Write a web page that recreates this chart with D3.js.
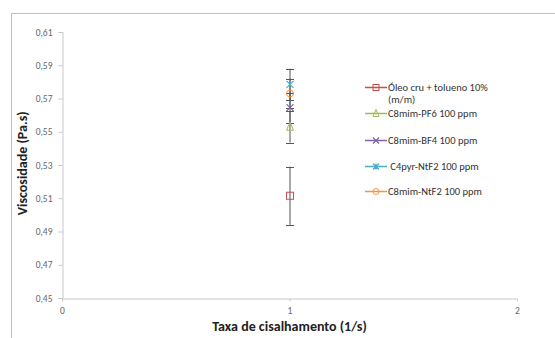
<!DOCTYPE html>
<html>
<head>
<meta charset="utf-8">
<script src="https://cdn.jsdelivr.net/npm/d3@7"></script>
<style>
  body { margin: 0; background: #fff; }
  svg { display: block; }
</style>
</head>
<body>
<svg id="chart" width="555" height="338"></svg>
<script>
// Viscosity at shear rate 1 1/s for crude oil + toluene with ionic liquids
const seriesNames = ["Óleo cru + tolueno 10% (m/m)", "C8mim-PF6 100 ppm", "C8mim-BF4 100 ppm", "C4pyr-NtF2 100 ppm", "C8mim-NtF2 100 ppm"];
const seriesColors = ["#C0504D", "#9BBB59", "#8064A2", "#4BACC6", "#F79646"];
const seriesShapes = ["square", "triangle", "x", "star", "circle"];
const shearRate = [1, 1, 1, 1, 1];
const viscosity = [0.5115, 0.5530, 0.5645, 0.5785, 0.5730];
const viscosityErr = [0.0175, 0.0095, 0.0090, 0.0095, 0.0090];
const yTicks = [0.45, 0.47, 0.49, 0.51, 0.53, 0.55, 0.57, 0.59, 0.61];
const xTicks = [0, 1, 2];

const svg = d3.select("#chart");
const W = 555, H = 338;
const fontFam = "Carlito, Calibri, 'Open Sans', 'Liberation Sans', sans-serif";

// outer chart frame
svg.append("path")
  .attr("d", `M11.5,${H} V13.5 H${W}`)
  .attr("fill", "none").attr("stroke", "#bdbdbd").attr("stroke-width", 1);

const x = d3.scaleLinear().domain([0, 2]).range([62, 517]);
const y = d3.scaleLinear().domain([0.45, 0.61]).range([298, 32]);

const fmt = d => d3.format(".2f")(d).replace(".", ",");

// y axis
const yAxis = svg.append("g").attr("transform", "translate(62.5,0)")
  .call(d3.axisLeft(y).tickValues(yTicks).tickFormat(fmt).tickSize(4).tickPadding(6));
// x axis
const xAxis = svg.append("g").attr("transform", "translate(0,298.5)")
  .call(d3.axisBottom(x).tickValues(xTicks).tickFormat(d3.format("d")).tickSize(3).tickPadding(6));

[yAxis, xAxis].forEach(g => {
  g.select(".domain").attr("stroke", "#c8c8c8");
  g.selectAll(".tick line").attr("stroke", "#c8c8c8");
  g.selectAll(".tick text").attr("fill", "#666").attr("font-size", 9.5).attr("font-family", fontFam);
});
xAxis.selectAll(".tick").filter(d => d === 0 || d === 2).select("line").remove();

// axis titles
svg.append("text")
  .attr("x", x(1)).attr("y", 331)
  .attr("text-anchor", "middle").attr("font-family", fontFam)
  .attr("font-weight", "bold").attr("font-size", 14).attr("fill", "#222")
  .text("Taxa de cisalhamento (1/s)");
svg.append("text")
  .attr("transform", `translate(27,${y(0.531)}) rotate(-90)`)
  .attr("text-anchor", "middle").attr("font-family", fontFam)
  .attr("font-weight", "bold").attr("font-size", 14).attr("fill", "#222")
  .text("Viscosidade (Pa.s)");

// marker drawer
function marker(g, shape, color, cx, cy, s) {
  if (shape === "square") {
    g.append("rect").attr("x", cx - s).attr("y", cy - s).attr("width", 2 * s).attr("height", 2 * s)
      .attr("fill", "#fff").attr("fill-opacity", 0).attr("stroke", color).attr("stroke-width", 1);
  } else if (shape === "triangle") {
    g.append("path").attr("d", `M${cx},${cy - s - 1} L${cx + s},${cy + s} L${cx - s},${cy + s} Z`)
      .attr("fill", "none").attr("stroke", color).attr("stroke-width", 1);
  } else if (shape === "x") {
    g.append("path").attr("d", `M${cx - s},${cy - s} L${cx + s},${cy + s} M${cx + s},${cy - s} L${cx - s},${cy + s}`)
      .attr("stroke", color).attr("stroke-width", 1.2);
  } else if (shape === "star") {
    g.append("path").attr("d", `M${cx - s},${cy - s} L${cx + s},${cy + s} M${cx + s},${cy - s} L${cx - s},${cy + s} M${cx},${cy - s} V${cy + s}`)
      .attr("stroke", color).attr("stroke-width", 1.2);
  } else {
    g.append("circle").attr("cx", cx).attr("cy", cy).attr("r", s)
      .attr("fill", "none").attr("stroke", color).attr("stroke-width", 1);
  }
}

// error bars
const eb = svg.append("g");
seriesNames.forEach((n, i) => {
  const cx = x(shearRate[i]) + 0.5;
  const y0 = y(viscosity[i] - viscosityErr[i]);
  const y1 = y(viscosity[i] + viscosityErr[i]);
  eb.append("line").attr("x1", cx).attr("x2", cx).attr("y1", y0).attr("y2", y1)
    .attr("stroke", "#555").attr("stroke-width", 1);
  [y0, y1].forEach(yy => eb.append("line").attr("x1", cx - 4).attr("x2", cx + 4)
    .attr("y1", Math.round(yy) + 0.5).attr("y2", Math.round(yy) + 0.5).attr("stroke", "#555").attr("stroke-width", 1));
});

// data points
const pts = svg.append("g");
seriesNames.forEach((n, i) => marker(pts, seriesShapes[i], seriesColors[i], x(shearRate[i]) + 0.5, y(viscosity[i]), 3.5));

// legend
const legendRows = [
  { lines: ["Óleo cru + tolueno 10%", "(m/m)"], y: 87 },
  { lines: ["C8mim-PF6 100 ppm"], y: 113 },
  { lines: ["C8mim-BF4 100 ppm"], y: 140 },
  { lines: [" C4pyr-NtF2 100 ppm"], y: 166 },
  { lines: ["C8mim-NtF2 100 ppm"], y: 191 }
];
const lg = svg.append("g");
legendRows.forEach((r, i) => {
  lg.append("line").attr("x1", 365).attr("x2", 387).attr("y1", r.y + 0.5).attr("y2", r.y + 0.5)
    .attr("stroke", seriesColors[i]).attr("stroke-width", 1.5);
  const mg = lg.append("g");
  marker(mg, seriesShapes[i], seriesColors[i], 376, r.y + 0.5, 3);
  const t = lg.append("text").attr("x", 388).attr("y", r.y + 3.5)
    .attr("font-family", fontFam).attr("font-size", 10.5).attr("fill", "#333")
    .attr("xml:space", "preserve");
  r.lines.forEach((ln, k) => t.append("tspan").attr("x", 388).attr("dy", k === 0 ? 0 : 12).text(ln));
});
</script>
</body>
</html>
